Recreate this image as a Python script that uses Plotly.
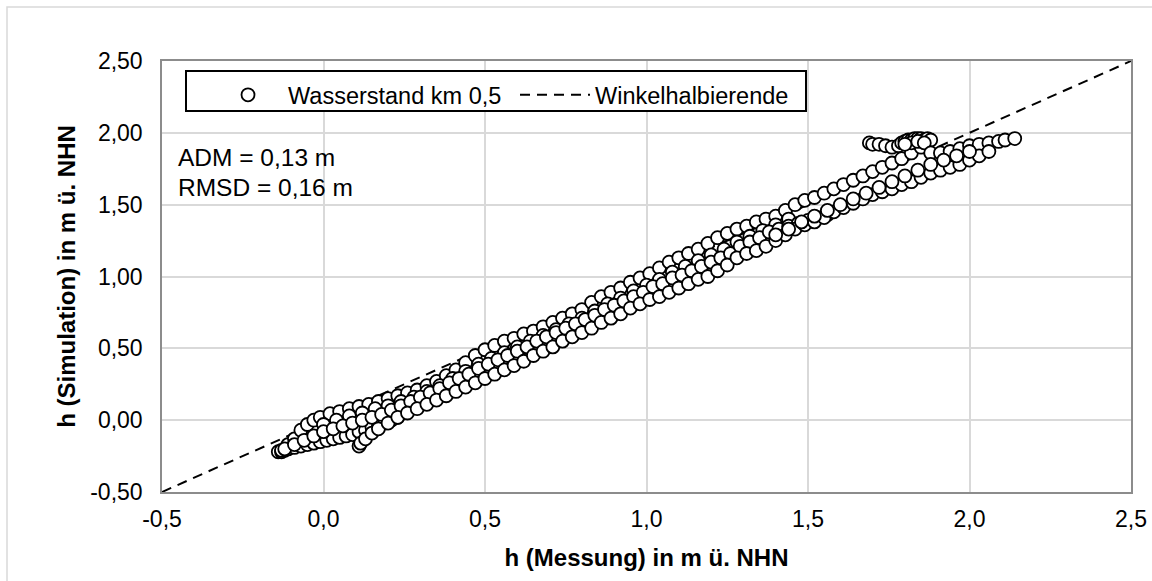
import plotly.graph_objects as go

# --- data ---
# upper strand (simulation slightly leads)
upper_x = [-0.13,-0.11,-0.09,-0.07,-0.05,-0.03,-0.01,0.02,0.05,0.08,0.11,0.14,0.17,0.20,0.23,0.26,0.29,
           0.32,0.35,0.38,0.41,0.44,0.47,0.50,0.53,0.56,0.59,0.62,0.65,0.68,0.71,0.74,0.77,0.80,0.83,0.86,0.89,
           0.92,0.95,0.98,1.01,1.04,1.07,1.10,1.13,1.16,1.19,1.22,1.25,1.28,1.31,1.34,1.37,1.40,1.43,1.46,1.49,
           1.52,1.55,1.58,1.61,1.64,1.67,1.70,1.73,1.76,1.79,1.82,1.85]
upper_y = [-0.21,-0.17,-0.13,-0.07,-0.03,0.00,0.02,0.045,0.06,0.08,0.095,0.11,0.13,0.15,0.17,0.19,0.21,
           0.24,0.27,0.31,0.35,0.40,0.45,0.49,0.52,0.55,0.57,0.60,0.62,0.65,0.68,0.71,0.74,0.77,0.82,0.86,0.89,
           0.92,0.96,0.99,1.02,1.06,1.10,1.13,1.16,1.19,1.23,1.27,1.30,1.33,1.35,1.38,1.40,1.42,1.46,1.50,1.53,
           1.55,1.58,1.61,1.64,1.67,1.70,1.73,1.76,1.79,1.82,1.86,1.90]

# second strand just below the upper one
mid2_x = [0.00,0.04,0.08,0.12,0.16,0.20,0.24,0.28,0.32,0.36,0.40,0.44,0.48,0.52,0.56,0.60,0.64,0.68,0.72,
          0.76,0.80,0.84,0.88,0.92,0.96,1.00,1.04,1.08,1.12,1.16,1.20,1.24,1.28,1.32,1.36,1.40,1.44]
mid2_y = [-0.03,0.00,0.03,0.05,0.08,0.10,0.13,0.16,0.20,0.24,0.29,0.34,0.39,0.43,0.47,0.51,0.55,0.59,0.63,
          0.67,0.71,0.76,0.81,0.85,0.90,0.94,0.98,1.03,1.07,1.11,1.15,1.19,1.24,1.28,1.32,1.36,1.40]

# middle strand
mid_x = [-0.12,-0.09,-0.06,-0.03,0.00,0.03,0.06,0.09,0.12,0.15,0.18,0.21,0.24,0.27,0.30,0.33,0.36,0.39,
         0.42,0.45,0.48,0.51,0.54,0.57,0.60,0.63,0.66,0.69,0.72,0.75,0.78,0.81,0.84,0.87,0.90,0.93,0.96,0.99,
         1.02,1.05,1.08,1.11,1.14,1.17,1.20,1.23,1.26,1.29,1.32,1.35,1.38,1.41,1.44,1.47,1.50,1.53,1.56]
mid_y = [-0.20,-0.17,-0.14,-0.11,-0.08,-0.06,-0.04,-0.02,0.00,0.02,0.04,0.07,0.10,0.13,0.16,0.19,0.22,0.26,
         0.29,0.32,0.36,0.39,0.42,0.45,0.48,0.51,0.55,0.58,0.61,0.64,0.67,0.70,0.73,0.77,0.80,0.83,0.86,0.89,
         0.93,0.95,0.99,1.01,1.04,1.07,1.10,1.13,1.16,1.21,1.24,1.27,1.31,1.33,1.35,1.37,1.39,1.41,1.43]

# lowest strand at the start of the record
start_x = [-0.14,-0.13,-0.12,-0.11,-0.09,-0.07,-0.05,-0.03,-0.01,0.01,0.03,0.05,0.07,0.09,0.11,0.13,0.15,
           0.17,0.19,0.21,0.23]
start_y = [-0.22,-0.22,-0.21,-0.20,-0.19,-0.18,-0.17,-0.16,-0.15,-0.14,-0.13,-0.12,-0.11,-0.10,-0.08,-0.07,
           -0.05,-0.04,-0.02,0.00,0.02]

# hook near x = 0.1
hook_x = [0.11,0.115,0.13,0.15,0.17,0.20,0.23]
hook_y = [-0.18,-0.16,-0.13,-0.09,-0.06,-0.02,0.02]

# lower strand
low_x = [0.26,0.29,0.32,0.35,0.38,0.41,0.44,0.47,0.50,0.53,0.56,0.59,0.62,0.65,0.68,0.71,0.74,0.77,0.80,
         0.83,0.86,0.89,0.92,0.95,0.98,1.01,1.04,1.07,1.10,1.13,1.16,1.19,1.22,1.25,1.28,1.31,1.34,1.37,1.40,
         1.43,1.46,1.49,1.52,1.55,1.58,1.61,1.64,1.67,1.70,1.73,1.76,1.79,1.82,1.85,1.88,1.91,1.94,1.97,2.00,
         2.03,2.06]
low_y = [0.05,0.08,0.11,0.14,0.17,0.20,0.23,0.26,0.29,0.32,0.35,0.38,0.41,0.45,0.48,0.51,0.55,0.58,0.61,
         0.64,0.68,0.71,0.74,0.78,0.81,0.84,0.86,0.89,0.92,0.95,0.98,1.00,1.04,1.08,1.13,1.16,1.18,1.21,1.25,
         1.29,1.33,1.36,1.38,1.41,1.45,1.48,1.51,1.54,1.57,1.59,1.61,1.64,1.66,1.69,1.72,1.74,1.76,1.78,1.81,
         1.84,1.87]

# second strand above the lower one near high water
low2_x = [1.40,1.44,1.48,1.52,1.56,1.60,1.64,1.68,1.72,1.76,1.80,1.84,1.88,1.92,1.96,2.00]
low2_y = [1.29,1.33,1.38,1.42,1.46,1.50,1.54,1.58,1.62,1.66,1.70,1.74,1.78,1.81,1.84,1.87]

# high-water tail and cluster
tail_x = [1.88,1.91,1.94,1.97,2.00,2.03,2.06,2.09,2.11,2.14]
tail_y = [1.86,1.86,1.87,1.89,1.91,1.92,1.93,1.94,1.95,1.96]
bump_x = [1.69,1.70,1.72,1.74,1.76,1.78,1.79,1.80,1.81,1.82,1.83,1.84,1.85,1.86,1.87,1.88,1.82,1.84,1.86,1.80]
bump_y = [1.93,1.92,1.92,1.91,1.90,1.91,1.93,1.94,1.95,1.95,1.96,1.96,1.96,1.95,1.96,1.95,1.93,1.94,1.93,1.92]

diag_x = [-0.5, 2.5]
diag_y = [-0.5, 2.5]

x_ticks = [-0.5, 0.0, 0.5, 1.0, 1.5, 2.0, 2.5]
x_ticktext = ["-0,5", "0,0", "0,5", "1,0", "1,5", "2,0", "2,5"]
y_ticks = [-0.5, 0.0, 0.5, 1.0, 1.5, 2.0, 2.5]
y_ticktext = ["-0,50", "0,00", "0,50", "1,00", "1,50", "2,00", "2,50"]

mess = start_x + upper_x + bump_x + tail_x + mid2_x + mid_x + hook_x + low_x + low2_x
sim = start_y + upper_y + bump_y + tail_y + mid2_y + mid_y + hook_y + low_y + low2_y

FONT = "Liberation Sans, Arial, sans-serif"

fig = go.Figure()
fig.add_trace(go.Scatter(
    x=diag_x, y=diag_y, mode="lines", name="Winkelhalbierende",
    line=dict(color="black", width=2, dash="10px,7px"), legendrank=2))
fig.add_trace(go.Scatter(
    x=mess, y=sim, mode="markers", name="Wasserstand km 0,5",
    marker=dict(size=13, color="white", line=dict(color="black", width=1.8)), legendrank=1))

W, H = 1152, 581
L, R, T, B = 162, 21, 61, 89
pw, ph = W - L - R, H - T - B

def px(xp):
    return (xp - L) / pw

def py(yp):
    return (H - B - yp) / ph

fig.update_layout(
    width=W, height=H,
    margin=dict(l=L, r=R, t=T, b=B, autoexpand=False),
    paper_bgcolor="white", plot_bgcolor="white",
    font=dict(family=FONT, size=22, color="black"),
    showlegend=True,
    legend=dict(orientation="h", x=px(208), y=py(73), xanchor="left", yanchor="top",
                bgcolor="rgba(0,0,0,0)", borderwidth=0, itemwidth=70,
                font=dict(size=23.5, family=FONT, color="black"), traceorder="normal",
                entrywidth=222),
    xaxis=dict(range=[-0.5, 2.5], tickvals=x_ticks, ticktext=x_ticktext,
               showgrid=True, gridcolor="#d9d9d9", gridwidth=1.5, zeroline=False,
               showline=True, mirror=True, linecolor="#8c8c8c", linewidth=1.5,
               ticks="", ticklabelstandoff=6, automargin=False,
               tickfont=dict(size=23),
               title=dict(text="<b>h (Messung) in m ü. NHN</b>", font=dict(size=24), standoff=18)),
    yaxis=dict(range=[-0.5, 2.5], tickvals=y_ticks, ticktext=y_ticktext,
               showgrid=True, gridcolor="#d9d9d9", gridwidth=1.5, zeroline=False,
               showline=True, mirror=True, linecolor="#8c8c8c", linewidth=1.5,
               ticks="", ticklabelstandoff=13, automargin=False,
               tickfont=dict(size=23),
               title=dict(text="<b>h (Simulation) in m ü. NHN</b>", font=dict(size=24), standoff=8)),
    shapes=[
        dict(type="rect", xref="paper", yref="paper", x0=px(7), y0=py(600), x1=px(1170), y1=py(7),
             line=dict(color="#d9d9d9", width=1.5), fillcolor="rgba(0,0,0,0)", layer="below"),
        dict(type="rect", xref="paper", yref="paper", x0=px(186), y0=py(111), x1=px(806), y1=py(71),
             line=dict(color="black", width=2), fillcolor="white", layer="above"),
    ],
    annotations=[
        dict(text="ADM = 0,13 m", xref="paper", yref="paper", x=px(176), y=py(158),
             xanchor="left", yanchor="middle", showarrow=False, font=dict(size=24.5, family=FONT)),
        dict(text="RMSD = 0,16 m", xref="paper", yref="paper", x=px(176), y=py(187),
             xanchor="left", yanchor="middle", showarrow=False, font=dict(size=24.5, family=FONT)),
    ],
)

fig.write_html("out.html")
